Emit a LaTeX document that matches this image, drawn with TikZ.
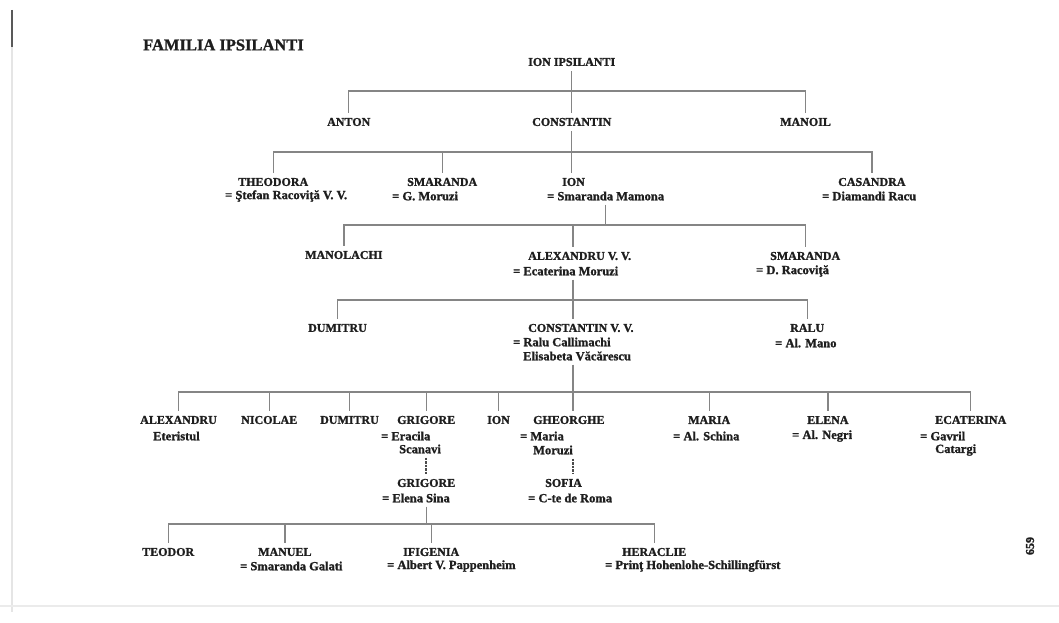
\documentclass[tikz,border=0pt]{standalone}
\usepackage{fontspec}
\setmainfont[BoldFeatures={FakeBold=1.3}]{Liberation Serif}
\definecolor{ink}{HTML}{1E1E1E}
\definecolor{wire}{HTML}{858585}
\tikzset{
  nm/.style={anchor=west, inner xsep=0pt, inner ysep=5pt, text=ink, font=\fontsize{12}{12}\selectfont\bfseries},
  sp/.style={anchor=west, inner xsep=0pt, inner ysep=4pt, text=ink, font=\fontsize{12.5}{12.5}\selectfont\bfseries},
  ttl/.style={anchor=west, inner sep=0pt, text=ink, font=\fontsize{16.5}{16.5}\selectfont\bfseries},
  ln/.style={draw=wire, line width=1.4pt},
  dotln/.style={draw=ink!80, line width=1.6pt, dash pattern=on 2.5pt off 1pt}
}
\begin{document}
\begin{tikzpicture}[x=1pt,y=-1pt]
\useasboundingbox (0,0) rectangle (1059,623);
\fill[white] (0,0) rectangle (1059,623);
% scan edge marks
\draw[draw=black!10, line width=1.5pt] (12,47) -- (12,612);
\draw[draw=black!65, line width=2pt] (12,10) -- (12,47);
\draw[draw=black!8, line width=1.2pt] (0,606) -- (1059,606);

\node[ttl] (title) at (143,45) {FAMILIA IPSILANTI};

% generation 0
\node[nm] (ion0) at (528,62) {ION IPSILANTI};
% generation 1
\node[nm] (anton) at (327,122) {ANTON};
\node[nm] (const1) at (532,122) {CONSTANTIN};
\node[nm] (manoil) at (780,122) {MANOIL};
% generation 2
\node[nm] (theo) at (238,182) {THEODORA};
\node[sp] (theosp) at (225,196) {= Ştefan Racoviţă V. V.};
\node[nm] (smar1) at (407,182) {SMARANDA};
\node[sp] (smar1sp) at (392,196) {= G. Moruzi};
\node[nm] (ion2) at (562,182) {ION};
\node[sp] (ion2sp) at (547,196) {= Smaranda Mamona};
\node[nm] (cas) at (838,182) {CASANDRA};
\node[sp] (cassp) at (822,196) {= Diamandi Racu};
% generation 3
\node[nm] (manol) at (305,255) {MANOLACHI};
\node[nm] (alex) at (528,256) {ALEXANDRU V. V.};
\node[sp] (alexsp) at (513,271) {= Ecaterina Moruzi};
\node[nm] (smar2) at (770,256) {SMARANDA};
\node[sp] (smar2sp) at (756,271) {= D. Racoviţă};
% generation 4
\node[nm] (dum4) at (308,328) {DUMITRU};
\node[nm] (constv) at (528,328) {CONSTANTIN V. V.};
\node[sp] (constvsp) at (513,342) {= Ralu Callimachi};
\node[sp] (constvsp2) at (523,356) {Elisabeta Văcărescu};
\node[nm] (ralu) at (790,328) {RALU};
\node[sp] (ralusp) at (775,343) {= Al. Mano};
% generation 5
\node[nm] (alex5) at (140,420) {ALEXANDRU};
\node[sp] (alex5b) at (153,436) {Eteristul};
\node[nm] (nic) at (241,420) {NICOLAE};
\node[nm] (dum5) at (320,420) {DUMITRU};
\node[nm] (grig) at (397,420) {GRIGORE};
\node[sp] (grigsp) at (381,436) {= Eracila};
\node[sp] (grigsp2) at (399,449) {Scanavi};
\node[nm] (ion5) at (487,420) {ION};
\node[nm] (gheo) at (533,420) {GHEORGHE};
\node[sp] (gheosp) at (520,436) {= Maria};
\node[sp] (gheosp2) at (533,450) {Moruzi};
\node[nm] (maria) at (688,420) {MARIA};
\node[sp] (mariasp) at (673,436) {= Al. Schina};
\node[nm] (elena) at (807,420) {ELENA};
\node[sp] (elenasp) at (792,436) {= Al. Negri};
\node[nm] (ecat) at (935,420) {ECATERINA};
\node[sp] (ecatsp) at (920,436) {= Gavril};
\node[sp] (ecatsp2) at (935,450) {Catargi};
\node[nm] (grig2) at (397,483) {GRIGORE};
\node[sp] (grig2sp) at (382,498) {= Elena Sina};
\node[nm] (sofia) at (545,483) {SOFIA};
\node[sp] (sofiasp) at (528,498) {= C-te de Roma};
% generation 7
\node[nm] (teodor) at (142,552) {TEODOR};
\node[nm] (manuel) at (258,552) {MANUEL};
\node[sp] (manuelsp) at (240,566) {= Smaranda Galati};
\node[nm] (ifig) at (403,552) {IFIGENIA};
\node[sp] (ifigsp) at (387,566) {= Albert V. Pappenheim};
\node[nm] (herac) at (622,552) {HERACLIE};
\node[sp] (heracsp) at (605,566) {= Prinţ Hohenlohe-Schillingfürst};

\node[rotate=90, inner sep=0pt, text=ink, font=\fontsize{12}{12}\selectfont\bfseries] (pageno) at (1030,546) {659};

% bars
\coordinate (b1) at (574,91);
\coordinate (b2) at (574,152);
\coordinate (b3) at (574,225);
\coordinate (b4) at (573,300);
\coordinate (b5) at (573,392);
\coordinate (b6) at (424,524);

% gen 0 -> 1
\draw[ln] (ion0.south) -- (ion0.south |- const1.north);
\draw[ln] (anton.north) -- (anton.north |- b1) -- (manoil.north |- b1) -- (manoil.north);
% gen 1 -> 2
\draw[ln] (const1.south) -- (const1.south |- ion2.north);
\draw[ln] (theo.north) -- (theo.north |- b2) -- (cas.north |- b2) -- (cas.north);
\draw[ln] (smar1.north) -- (smar1.north |- b2);
% gen 2 -> 3
\draw[ln] (ion2sp.south) -- (ion2sp.south |- b3);
\draw[ln] (manol.north) -- (manol.north |- b3) -- (smar2.north |- b3) -- (smar2.north);
\draw[ln] (b4 |- b3) -- (b4 |- alex.north);
% gen 3 -> 4
\draw[ln] (b4 |- alexsp.south) -- (b4 |- constv.north);
\draw[ln] (dum4.north) -- (dum4.north |- b4) -- (ralu.north |- b4) -- (ralu.north);
% gen 4 -> 5
\draw[ln] (b5 |- constvsp2.south) -- (b5 |- gheo.north);
\draw[ln] (alex5.north) -- (alex5.north |- b5) -- (ecat.north |- b5) -- (ecat.north);
\foreach \c in {nic,dum5,grig,ion5,maria,elena}
  \draw[ln] (\c.north) -- (\c.north |- b5);
% gen 5 -> 6
\draw[dotln] (grig.north |- grigsp2.south) -- (grig2.north);
\draw[dotln] (b5 |- gheosp2.south) -- (b5 |- sofia.north);
% gen 6 -> 7
\draw[ln] (grig2.south |- grig2sp.south) -- (grig2.south |- b6);
\draw[ln] (teodor.north) -- (teodor.north |- b6) -- (herac.north |- b6) -- (herac.north);
\draw[ln] (manuel.north) -- (manuel.north |- b6);
\draw[ln] (ifig.north) -- (ifig.north |- b6);
\end{tikzpicture}
\end{document}
